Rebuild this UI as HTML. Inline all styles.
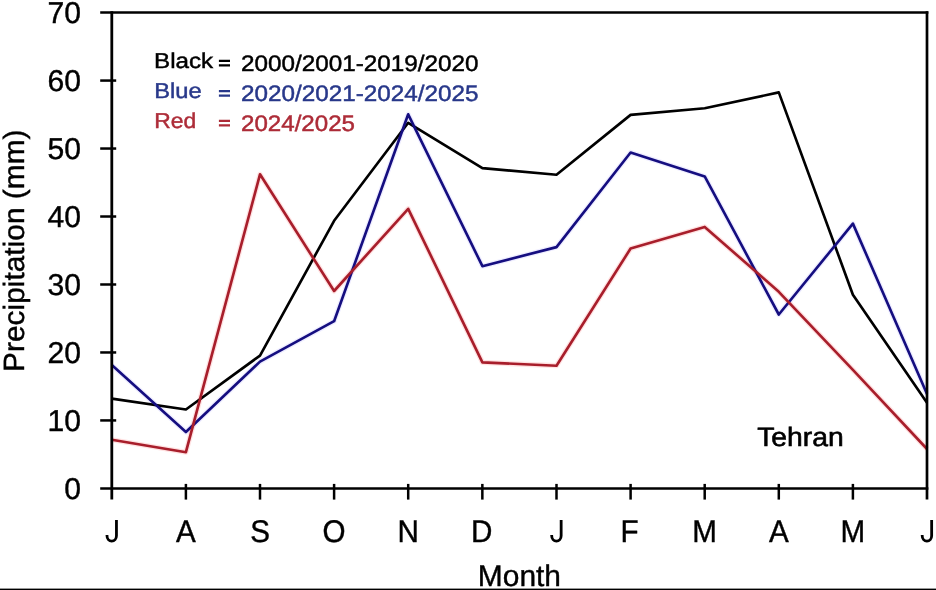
<!DOCTYPE html>
<html lang="en">
<head>
<meta charset="utf-8">
<title>Tehran monthly precipitation</title>
<style>
  html, body { margin: 0; padding: 0; background: #ffffff; }
  body { width: 936px; height: 590px; overflow: hidden; }
  svg { display: block; will-change: transform; }
  text { font-family: "Liberation Sans", sans-serif; text-rendering: geometricPrecision; }
</style>
</head>
<body>
<svg width="936" height="590" viewBox="0 0 936 590">
  <rect x="0" y="0" width="936" height="590" fill="#ffffff"/>
  <!-- faint chroma halo (mimics compression bleed around coloured strokes) -->
  <g fill="none" stroke-linejoin="round" stroke-linecap="butt" stroke-width="5.2">
    <polyline stroke="#5a50ff" stroke-opacity="0.10" points="111.8,365.1 185.9,432.0 260.0,361.6 334.1,321.2 408.2,114.3 482.4,266.2 556.5,247.1 630.6,152.5 704.7,176.4 778.8,314.5 852.9,223.6 927.0,394.0"/>
    <polyline stroke="#ff4848" stroke-opacity="0.16" points="111.8,439.8 185.9,452.2 260.0,174.3 334.1,291.0 408.2,208.8 482.4,362.4 556.5,365.7 630.6,248.5 704.7,226.9 778.8,291.8 852.9,369.9 927.0,449.0"/>
  </g>
  <!-- data series -->
  <g fill="none" stroke-width="2.65" stroke-linejoin="round" stroke-linecap="butt">
    <polyline stroke="#000000" points="111.8,398.6 185.9,409.5 260.0,355.6 334.1,220.8 408.2,122.8 482.4,168.1 556.5,174.7 630.6,114.9 704.7,108.3 778.8,92.4 852.9,294.7 927.0,402.8"/>
    <polyline stroke="#150e80" points="111.8,365.1 185.9,432.0 260.0,361.6 334.1,321.2 408.2,114.3 482.4,266.2 556.5,247.1 630.6,152.5 704.7,176.4 778.8,314.5 852.9,223.6 927.0,394.0"/>
    <polyline stroke="#a81e2b" points="111.8,439.8 185.9,452.2 260.0,174.3 334.1,291.0 408.2,208.8 482.4,362.4 556.5,365.7 630.6,248.5 704.7,226.9 778.8,291.8 852.9,369.9 927.0,449.0"/>
  </g>
  <!-- frame -->
  <g stroke="#000000" fill="none" stroke-linecap="butt">
    <line x1="111.8" y1="11.35" x2="111.8" y2="499.6" stroke-width="2.8"/>
    <line x1="927.0" y1="11.35" x2="927.0" y2="499.6" stroke-width="2.7"/>
    <line x1="100.2" y1="12.6" x2="928.35" y2="12.6" stroke-width="2.5"/>
    <line x1="100.2" y1="488.4" x2="928.35" y2="488.4" stroke-width="2.5"/>
    <g stroke-width="2.5">
      <line x1="100.2" y1="80.57" x2="116.2" y2="80.57"/>
      <line x1="100.2" y1="148.54" x2="116.2" y2="148.54"/>
      <line x1="100.2" y1="216.51" x2="116.2" y2="216.51"/>
      <line x1="100.2" y1="284.49" x2="116.2" y2="284.49"/>
      <line x1="100.2" y1="352.46" x2="116.2" y2="352.46"/>
      <line x1="100.2" y1="420.43" x2="116.2" y2="420.43"/>
      <line x1="185.9" y1="483.9" x2="185.9" y2="499.6"/>
      <line x1="260.0" y1="483.9" x2="260.0" y2="499.6"/>
      <line x1="334.1" y1="483.9" x2="334.1" y2="499.6"/>
      <line x1="408.2" y1="483.9" x2="408.2" y2="499.6"/>
      <line x1="482.35" y1="483.9" x2="482.35" y2="499.6"/>
      <line x1="556.5" y1="483.9" x2="556.5" y2="499.6"/>
      <line x1="630.6" y1="483.9" x2="630.6" y2="499.6"/>
      <line x1="704.7" y1="483.9" x2="704.7" y2="499.6"/>
      <line x1="778.8" y1="483.9" x2="778.8" y2="499.6"/>
      <line x1="852.9" y1="483.9" x2="852.9" y2="499.6"/>
    </g>
  </g>
  <!-- y tick labels -->
  <g font-size="30.1" fill="#000000" stroke="#000000" stroke-width="0.4" text-anchor="end">
    <text x="81.1" y="23.05">70</text>
    <text x="81.1" y="91.02">60</text>
    <text x="81.1" y="158.99">50</text>
    <text x="81.1" y="226.96">40</text>
    <text x="81.1" y="294.94">30</text>
    <text x="81.1" y="362.91">20</text>
    <text x="81.1" y="430.88">10</text>
    <text x="81.1" y="498.85">0</text>
  </g>
  <!-- x tick labels -->
  <g font-size="29.6" fill="#000000" stroke="#000000" stroke-width="0.4" text-anchor="middle">
    <text transform="translate(185.9,542.0) scale(1,1.06)">A</text>
    <text transform="translate(260.0,542.0) scale(1,1.06)">S</text>
    <text transform="translate(334.1,542.0) scale(1,1.06)">O</text>
    <text transform="translate(408.2,542.0) scale(1,1.06)">N</text>
    <text transform="translate(481.7,542.0) scale(1,1.06)">D</text>
    <text transform="translate(629.6,542.0) scale(1,1.06)">F</text>
    <text transform="translate(704.7,542.0) scale(1,1.06)">M</text>
    <text transform="translate(778.8,542.0) scale(1,1.06)">A</text>
    <text transform="translate(852.9,542.0) scale(1,1.06)">M</text>
  </g>
  <!-- letter J drawn as a path (no top bar) -->
  <g fill="none" stroke="#000000" stroke-width="2.8" stroke-linecap="butt" stroke-linejoin="round">
    <path d="M116.45,520.05V535.7A4.72,5.45 0 0 1 107.00,535.7V534.9"/>
    <path d="M561.15,520.05V535.7A4.72,5.45 0 0 1 551.70,535.7V534.9"/>
    <path d="M931.65,520.05V535.7A4.72,5.45 0 0 1 922.20,535.7V534.9"/>
  </g>
  <!-- axis titles -->
  <text x="519.4" y="585.8" font-size="29.9" fill="#000000" stroke="#000000" stroke-width="0.4" text-anchor="middle">Month</text>
  <text transform="translate(23.9,371.9) rotate(-90)" font-size="29.3" fill="#000000" stroke="#000000" stroke-width="0.4" textLength="242.4" lengthAdjust="spacingAndGlyphs">Precipitation (mm)</text>

  <!-- station name -->
  <text x="757.2" y="445.6" font-size="26.6" fill="#000000" stroke="#000000" stroke-width="0.6" textLength="86.6" lengthAdjust="spacingAndGlyphs">Tehran</text>

  <!-- legend -->
  <g font-size="21.5">
    <text x="154.0" y="68.0" fill="#000000" stroke="#000000" stroke-width="0.45" textLength="59.2" lengthAdjust="spacingAndGlyphs">Black</text>
    <text x="154.2" y="98.4" fill="#28388a" stroke="#28388a" stroke-width="0.45" textLength="47.5" lengthAdjust="spacingAndGlyphs">Blue</text>
    <text x="154.2" y="128.1" fill="#ad2c38" stroke="#ad2c38" stroke-width="0.45" textLength="42" lengthAdjust="spacingAndGlyphs">Red</text>
  </g>
  <g stroke-width="2.2" fill="none">
    <path stroke="#000000" d="M218.9,60.8H230 M218.9,65.4H230"/>
    <path stroke="#28388a" d="M218.9,91.2H230 M218.9,95.6H230"/>
    <path stroke="#ad2c38" d="M218.9,120.9H230 M218.9,125.3H230"/>
  </g>
  <g font-size="22.4">
    <text x="241" y="71.0" fill="#000000" stroke="#000000" stroke-width="0.45" textLength="237.6" lengthAdjust="spacingAndGlyphs">2000/2001-2019/2020</text>
    <text x="241" y="100.95" fill="#28388a" stroke="#28388a" stroke-width="0.45" textLength="237.6" lengthAdjust="spacingAndGlyphs">2020/2021-2024/2025</text>
    <text x="241" y="130.55" fill="#ad2c38" stroke="#ad2c38" stroke-width="0.45" textLength="114" lengthAdjust="spacingAndGlyphs">2024/2025</text>
  </g>

  <!-- bottom edge rule -->
  <rect x="0" y="588.6" width="936" height="1.4" fill="#000000"/>
</svg>
</body>
</html>
